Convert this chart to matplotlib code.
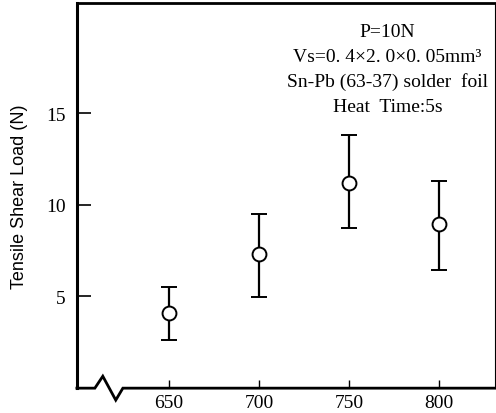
import matplotlib
matplotlib.use("Agg")
import matplotlib.pyplot as plt

temps = [650, 700, 750, 800]
load_mean = [4.1, 7.3, 11.2, 8.95]
load_upper = [5.5, 9.5, 13.8, 11.3]
load_lower = [2.65, 4.95, 8.75, 6.45]
x_ticks = [650, 700, 750, 800]
y_ticks = [5, 10, 15]
note_lines = ["P=10N",
              "Vs=0. 4×2. 0×0. 05mm³",
              "Sn-Pb (63-37) solder  foil",
              "Heat  Time:5s"]

err_low = [m - l for m, l in zip(load_mean, load_lower)]
err_high = [u - m for m, u in zip(load_mean, load_upper)]

fig = plt.figure(figsize=(4.96, 4.14), dpi=100)
ax = fig.add_axes([0.155, 0.060, 0.843, 0.930])

ax.errorbar(temps, load_mean, yerr=[err_low, err_high], fmt='o', color='black',
            mfc='white', mec='black', ms=10, mew=1.4, elinewidth=1.6,
            capsize=6, capthick=1.6, zorder=3)

ax.set_xlim(599, 831)
ax.set_ylim(0, 21.0)
ax.set_xticks(x_ticks)
ax.set_yticks(y_ticks)
serif = ['Liberation Serif', 'DejaVu Serif']
ax.set_xticklabels([str(v) for v in x_ticks], family=serif, fontsize=14)
ax.set_yticklabels([str(v) for v in y_ticks], family=serif, fontsize=14)
ax.tick_params(axis='y', direction='in', length=10, width=1.2, pad=8)
ax.tick_params(axis='x', direction='in', length=6, width=1.0, pad=4)

ax.set_ylabel("Tensile Shear Load (N)", family=['Liberation Sans', 'DejaVu Sans'],
              fontsize=13, labelpad=13)

ax.spines['left'].set_linewidth(2.2)
ax.spines['top'].set_linewidth(2.0)
ax.spines['right'].set_linewidth(0.8)
ax.spines['bottom'].set_visible(False)

# axis-break symbol on the x axis
bx = [0.0, 0.043, 0.062, 0.093, 0.110, 1.0]
by = [0.0, 0.0, 0.031, -0.031, 0.0, 0.0]
ax.plot(bx, by, transform=ax.transAxes, color='black', lw=2.0, clip_on=False,
        solid_joinstyle='miter', zorder=4)

for i, line in enumerate(note_lines):
    ax.text(0.743, 0.927 - i * 0.065, line, transform=ax.transAxes,
            ha='center', va='center', family=serif, fontsize=14)

fig.savefig("out.png", dpi=100)
